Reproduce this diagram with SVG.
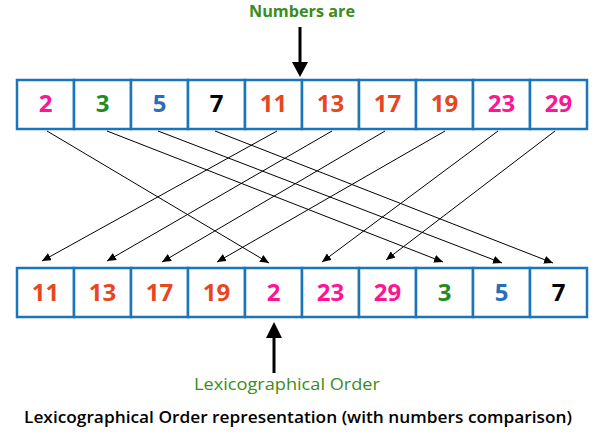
<svg xmlns="http://www.w3.org/2000/svg" width="600" height="435" viewBox="0 0 600 435">
<style>
.cell{fill:#fff;stroke:#1B75BB;stroke-width:2.5}
.num{font-family:"Open Sans","Noto Sans",sans-serif;font-weight:700;font-size:24px;text-anchor:middle}
.pk{fill:#FF1493}.gr{fill:#1E8C1E}.bl{fill:#2A6EBB}.bk{fill:#000}.rd{fill:#E8461E}
.lbl{font-family:"Open Sans","Noto Sans",sans-serif;text-anchor:middle}
.con{stroke:#000;stroke-width:1;fill:none}
</style>
<defs>
<marker id="ah" markerUnits="userSpaceOnUse" markerWidth="10" markerHeight="8" refX="9" refY="4" orient="auto">
<path d="M0,0 L9,4 L0,8 Z" fill="#000"/>
</marker>
</defs>
<rect width="600" height="435" fill="#fff"/>
<g id="title">
<text class="lbl" x="302" y="17" font-size="16" font-weight="700" fill="#3B8C1A" textLength="106" lengthAdjust="spacingAndGlyphs">Numbers are</text>
<path d="M300,27 V64" stroke="#000" stroke-width="3"/>
<path d="M292,62 L308,62 L300,77 Z" fill="#000"/>
</g>
<g id="top-row">
<g id="t0"><rect class="cell" x="17" y="80" width="57" height="49"/><text class="num pk" x="45.5" y="112">2</text></g>
<g id="t1"><rect class="cell" x="74" y="80" width="57" height="49"/><text class="num gr" x="102.5" y="112">3</text></g>
<g id="t2"><rect class="cell" x="131" y="80" width="57" height="49"/><text class="num bl" x="159.5" y="112">5</text></g>
<g id="t3"><rect class="cell" x="188" y="80" width="57" height="49"/><text class="num bk" x="216.5" y="112">7</text></g>
<g id="t4"><rect class="cell" x="245" y="80" width="57" height="49"/><text class="num rd" x="273.5" y="112">11</text></g>
<g id="t5"><rect class="cell" x="302" y="80" width="57" height="49"/><text class="num rd" x="330.5" y="112">13</text></g>
<g id="t6"><rect class="cell" x="359" y="80" width="57" height="49"/><text class="num rd" x="387.5" y="112">17</text></g>
<g id="t7"><rect class="cell" x="416" y="80" width="57" height="49"/><text class="num rd" x="444.5" y="112">19</text></g>
<g id="t8"><rect class="cell" x="473" y="80" width="57" height="49"/><text class="num pk" x="501.5" y="112">23</text></g>
<g id="t9"><rect class="cell" x="530" y="80" width="57" height="49"/><text class="num pk" x="558.5" y="112">29</text></g>
</g>
<g id="bottom-row">
<g id="b0"><rect class="cell" x="17" y="268" width="57" height="49"/><text class="num rd" x="45.5" y="301">11</text></g>
<g id="b1"><rect class="cell" x="74" y="268" width="57" height="49"/><text class="num rd" x="102.5" y="301">13</text></g>
<g id="b2"><rect class="cell" x="131" y="268" width="57" height="49"/><text class="num rd" x="159.5" y="301">17</text></g>
<g id="b3"><rect class="cell" x="188" y="268" width="57" height="49"/><text class="num rd" x="216.5" y="301">19</text></g>
<g id="b4"><rect class="cell" x="245" y="268" width="57" height="49"/><text class="num pk" x="273.5" y="301">2</text></g>
<g id="b5"><rect class="cell" x="302" y="268" width="57" height="49"/><text class="num pk" x="330.5" y="301">23</text></g>
<g id="b6"><rect class="cell" x="359" y="268" width="57" height="49"/><text class="num pk" x="387.5" y="301">29</text></g>
<g id="b7"><rect class="cell" x="416" y="268" width="57" height="49"/><text class="num gr" x="444.5" y="301">3</text></g>
<g id="b8"><rect class="cell" x="473" y="268" width="57" height="49"/><text class="num bl" x="501.5" y="301">5</text></g>
<g id="b9"><rect class="cell" x="530" y="268" width="57" height="49"/><text class="num bk" x="558.5" y="301">7</text></g>
</g>
<g id="connectors">
<line class="con" x1="47" y1="131" x2="269" y2="263" marker-end="url(#ah)"/>
<line class="con" x1="107" y1="131" x2="443" y2="262" marker-end="url(#ah)"/>
<line class="con" x1="158" y1="131" x2="502" y2="263" marker-end="url(#ah)"/>
<line class="con" x1="215" y1="131" x2="553" y2="263" marker-end="url(#ah)"/>
<line class="con" x1="277" y1="131" x2="42" y2="261" marker-end="url(#ah)"/>
<line class="con" x1="332" y1="131" x2="107" y2="261" marker-end="url(#ah)"/>
<line class="con" x1="385" y1="131" x2="162" y2="262" marker-end="url(#ah)"/>
<line class="con" x1="445" y1="131" x2="217" y2="262" marker-end="url(#ah)"/>
<line class="con" x1="498" y1="131" x2="322" y2="262" marker-end="url(#ah)"/>
<line class="con" x1="555" y1="131" x2="386" y2="260" marker-end="url(#ah)"/>
</g>
<g id="result">
<path d="M274,373 V335" stroke="#000" stroke-width="3"/>
<path d="M266,338 L282,338 L274,322 Z" fill="#000"/>
<text class="lbl" x="287" y="390" font-size="17" font-weight="500" fill="#3B8C1A" textLength="186" lengthAdjust="spacingAndGlyphs">Lexicographical Order</text>
</g>
<g id="caption">
<text class="lbl" x="298" y="423" font-size="16" font-weight="600" fill="#000" textLength="548" lengthAdjust="spacingAndGlyphs">Lexicographical Order representation (with numbers comparison)</text>
</g>
</svg>
